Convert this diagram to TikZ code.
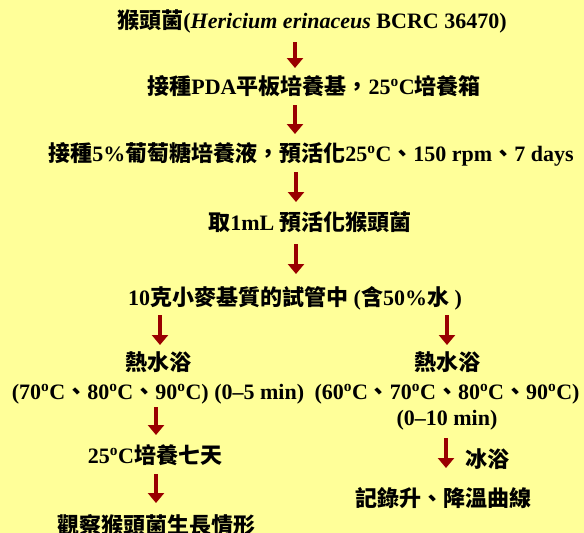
\documentclass[tikz,border=0pt]{standalone}
\usepackage{fontspec}
\setmainfont{Liberation Serif}
\newfontfamily\cj{Noto Sans CJK TC}
\usetikzlibrary{arrows.meta}
\definecolor{bg}{RGB}{255,255,153}
\definecolor{arr}{RGB}{153,0,0}
\newcommand\zh[1]{{\cj #1}}
\newcommand\dg{\textsuperscript{o}}
\begin{document}
\begin{tikzpicture}[x=1pt,y=-1pt,
  txt/.style={inner sep=0pt, text height=16pt, text depth=0pt,
    font=\fontsize{22}{26}\selectfont\bfseries, text=black},
  flow/.style={draw=arr, line width=3.4pt, -{Triangle[width=16pt,length=10pt,fill=arr]}}]
\fill[bg] (0,0) rectangle (584,533);
\useasboundingbox (0,0) rectangle (584,533);

\node[txt] (n1) at (312,20) {\zh{猴頭菌}(\textit{Hericium erinaceus} BCRC 36470)};
\node[txt] (n2) at (314,86) {\zh{接種}PDA\zh{平板培養基，}25\dg C\zh{培養箱}};
\node[txt] (n3) at (311,153) {\zh{接種}5\%\zh{葡萄糖培養液，預活化}25\dg C\zh{、}150 rpm\zh{、}7 days};
\node[txt] (n4) at (310,222) {\zh{取}1mL \zh{預活化猴頭菌}};
\node[txt] (n5) at (295,297) {10\zh{克小麥基質的試管中} (\zh{含}50\%\zh{水} )};
\node[txt] (hl) at (158,362) {\zh{熱水浴}};
\node[txt] (hr) at (447,362) {\zh{熱水浴}};
\node[txt] (pl) at (158,391) {(70\dg C\zh{、}80\dg C\zh{、}90\dg C) (0--5 min)};
\node[txt] (pr) at (447,391) {(60\dg C\zh{、}70\dg C\zh{、}80\dg C\zh{、}90\dg C)};
\node[txt] (tr) at (447,417) {(0--10 min)};
\node[txt] (cl) at (155,455) {25\dg C\zh{培養七天}};
\node[txt] (ice) at (487,459) {\zh{冰浴}};
\node[txt] (rec) at (443,498) {\zh{記錄升、降溫曲線}};
\node[txt] (obs) at (156,525) {\zh{觀察猴頭菌生長情形}};

\coordinate (a1s) at (295,42);  \coordinate (a1e) at (295,68);
\coordinate (a2s) at (295,105); \coordinate (a2e) at (295,134);
\coordinate (a3s) at (296,172); \coordinate (a3e) at (296,202);
\coordinate (a4s) at (296,244); \coordinate (a4e) at (296,274);
\coordinate (bls) at (160,315); \coordinate (ble) at (160,345);
\coordinate (brs) at (447,315); \coordinate (bre) at (447,345);
\coordinate (cls) at (156,407); \coordinate (cle) at (156,435);
\coordinate (dls) at (156,474); \coordinate (dle) at (156,503);
\coordinate (drs) at (446,438); \coordinate (dre) at (446,468);

\draw[flow] (a1s) -- (a1e);
\draw[flow] (a2s) -- (a2e);
\draw[flow] (a3s) -- (a3e);
\draw[flow] (a4s) -- (a4e);
\draw[flow] (bls) -- (ble);
\draw[flow] (brs) -- (bre);
\draw[flow] (cls) -- (cle);
\draw[flow] (dls) -- (dle);
\draw[flow] (drs) -- (dre);
\end{tikzpicture}
\end{document}
